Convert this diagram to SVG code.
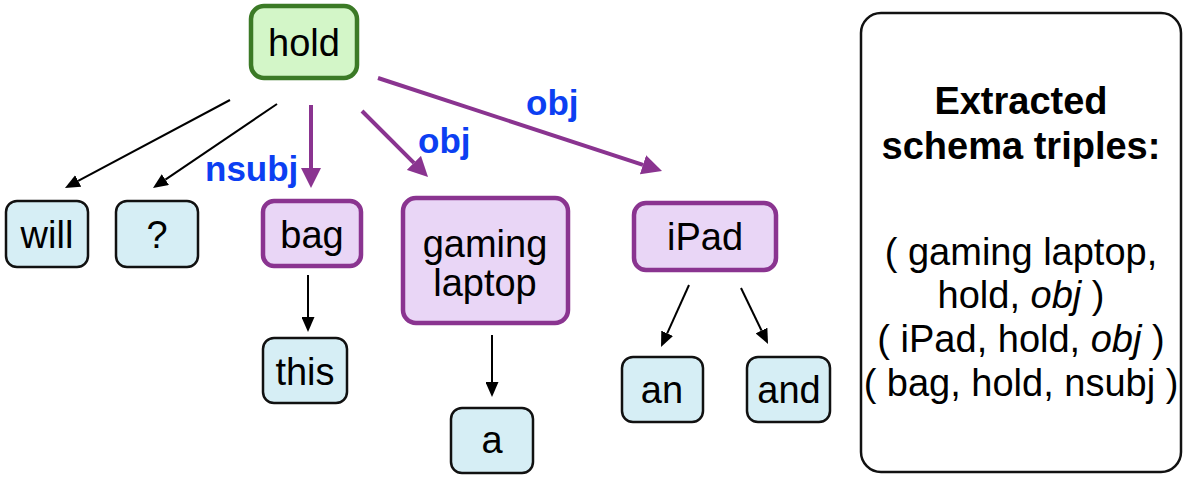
<svg xmlns="http://www.w3.org/2000/svg" width="1196" height="482" viewBox="0 0 1196 482">
<style>
text{font-family:"Liberation Sans",Arial,Helvetica,sans-serif;fill:#000;text-anchor:middle}
.w{fill:#d6eef5;stroke:#111;stroke-width:2.5}
.p{fill:#e9d6f6;stroke:#8a3490;stroke-width:4.5}
.g{fill:#d3f6c8;stroke:#3b7a26;stroke-width:4.5}
.n{font-size:38px}
.lab{font-size:35px;font-weight:bold;fill:#0c3ff2;text-anchor:start}
.bl{stroke:#000;stroke-width:2;fill:none}
.pl{stroke:#8a3490;stroke-width:4;fill:none}
.t{font-size:38px}
</style>
<defs>
<marker id="ab" markerUnits="userSpaceOnUse" markerWidth="15" markerHeight="13" viewBox="0 0 15 13" refX="0" refY="6.5" orient="auto"><path d="M0,0 L15,6.5 L0,13 z" fill="#000"/></marker>
<marker id="ap" markerUnits="userSpaceOnUse" markerWidth="20" markerHeight="20" viewBox="0 0 20 20" refX="0" refY="10" orient="auto"><path d="M0,0 L20,10 L0,20 z" fill="#8a3490"/></marker>
</defs>
<g id="connectors">
<line class="bl" x1="230" y1="100" x2="78.2" y2="180.9" marker-end="url(#ab)"/>
<line class="bl" x1="277" y1="104" x2="165.4" y2="179.6" marker-end="url(#ab)"/>
<line class="pl" x1="311" y1="105" x2="311" y2="168" marker-end="url(#ap)"/>
<line class="pl" x1="362" y1="111" x2="413.9" y2="162.9" marker-end="url(#ap)"/>
<line class="pl" x1="378" y1="78" x2="643" y2="164.8" marker-end="url(#ap)"/>
<line class="bl" x1="308" y1="275" x2="308" y2="317" marker-end="url(#ab)"/>
<line class="bl" x1="492" y1="335" x2="492" y2="382" marker-end="url(#ab)"/>
<line class="bl" x1="689" y1="285" x2="667.2" y2="333.3" marker-end="url(#ab)"/>
<line class="bl" x1="741" y1="288" x2="761.5" y2="330.5" marker-end="url(#ab)"/>
<text class="lab" x="205" y="181">nsubj</text>
<text class="lab" x="418" y="153">obj</text>
<text class="lab" x="526" y="115">obj</text>
</g>
<g id="hold"><rect class="g" x="251" y="6" width="106" height="72" rx="13"/><text class="n" x="304" y="56">hold</text></g>
<g id="will"><rect class="w" x="6" y="201" width="82" height="66" rx="11"/><text class="n" x="47" y="248">will</text></g>
<g id="q"><rect class="w" x="116" y="201" width="82" height="66" rx="11"/><text class="n" x="157" y="248">?</text></g>
<g id="bag"><rect class="p" x="263" y="201" width="98" height="65" rx="11"/><text class="n" x="312" y="248">bag</text></g>
<g id="gaming"><rect class="p" x="403" y="198" width="165" height="125" rx="13"/><text class="n" x="485" y="257">gaming</text><text class="n" x="485" y="296">laptop</text></g>
<g id="ipad"><rect class="p" x="634" y="203" width="142" height="67" rx="12"/><text class="n" x="705" y="250">iPad</text></g>
<g id="this"><rect class="w" x="263" y="338" width="84" height="65" rx="11"/><text class="n" x="305" y="385">this</text></g>
<g id="a"><rect class="w" x="451" y="408" width="82" height="65" rx="11"/><text class="n" x="492" y="453">a</text></g>
<g id="an"><rect class="w" x="622" y="357" width="81" height="65" rx="11"/><text class="n" x="662" y="403">an</text></g>
<g id="and"><rect class="w" x="747" y="357" width="83" height="65" rx="11"/><text class="n" x="789" y="403">and</text></g>
<g id="triples">
<rect x="861" y="13" width="320" height="459" rx="20" fill="#fff" stroke="#111" stroke-width="2.5"/>
<text class="t" x="1021" y="114" font-weight="bold">Extracted</text>
<text class="t" x="1021" y="159" font-weight="bold">schema triples:</text>
<text class="t" x="1021" y="265">( gaming laptop,</text>
<text class="t" x="1021" y="308">hold, <tspan font-style="italic">obj</tspan> )</text>
<text class="t" x="1021" y="352">( iPad, hold, <tspan font-style="italic">obj</tspan> )</text>
<text class="t" x="1021" y="396">( bag, hold, nsubj )</text>
</g>
</svg>
